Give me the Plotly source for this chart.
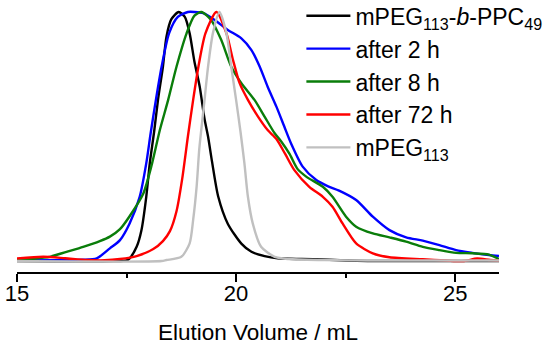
import plotly.graph_objects as go

# ---- data ----
names = ["mPEG<sub>113</sub>-<i>b</i>-PPC<sub>49</sub>", "after 2 h", "after 8 h", "after 72 h", "mPEG<sub>113</sub>"]
colors = ["#000000", "#0000ff", "#0a7d0a", "#ff0000", "#c0c0c0"]

black_x = [15.0, 17.2, 17.5, 17.57, 17.73, 17.84, 17.95, 18.03, 18.13, 18.22, 18.33, 18.41, 18.52, 18.69,
           18.83, 18.94, 19.05, 19.17, 19.28, 19.36, 19.45, 19.59, 19.81, 20.12, 20.35, 20.65, 20.95,
           21.5, 22.0, 22.5, 23.0, 26.0]
black_y = [0.0, 0.0, 0.003, 0.011, 0.057, 0.124, 0.258, 0.392, 0.52, 0.65, 0.78, 0.9, 0.97, 1.0,
           0.98, 0.914, 0.80, 0.70, 0.57, 0.50, 0.40, 0.26, 0.15, 0.07, 0.037, 0.02, 0.011,
           0.008, 0.006, 0.002, 0.0, 0.0]

blue_x = [15.0, 16.0, 16.5, 16.82, 17.12, 17.35, 17.57, 17.80, 17.95, 18.05, 18.17, 18.30, 18.47, 18.67,
          18.9, 19.05, 19.25, 19.51, 19.81, 20.12, 20.35, 20.54, 20.72, 20.92, 21.10, 21.26, 21.52,
          21.83, 22.1, 22.35, 22.74, 23.12, 23.50, 23.88, 24.26, 24.64, 25.02, 25.39, 25.77, 26.0]
blue_y = [0.002, 0.003, 0.005, 0.011, 0.051, 0.084, 0.151, 0.258, 0.392, 0.513, 0.647, 0.78, 0.914, 0.98,
          1.0, 1.0, 0.995, 0.968, 0.928, 0.894, 0.847, 0.78, 0.70, 0.62, 0.54, 0.47, 0.379,
          0.325, 0.30, 0.283, 0.245, 0.178, 0.124, 0.095, 0.082, 0.064, 0.044, 0.033, 0.024, 0.02]

green_x = [15.0, 15.3, 15.75, 16.13, 16.51, 16.89, 17.12, 17.35, 17.57, 17.88, 18.08, 18.26, 18.45, 18.64,
           18.87, 19.05, 19.21, 19.43, 19.66, 19.89, 20.12, 20.42, 20.65, 20.88, 21.03, 21.22, 21.40,
           21.60, 21.98, 22.20, 22.51, 22.74, 23.12, 23.50, 23.88, 24.26, 24.64, 25.02, 25.39, 25.77, 26.0]
green_y = [0.003, 0.008, 0.017, 0.037, 0.057, 0.080, 0.098, 0.128, 0.18, 0.27, 0.39, 0.526, 0.647, 0.78,
           0.914, 0.985, 1.0, 0.968, 0.888, 0.78, 0.714, 0.647, 0.58, 0.513, 0.48, 0.43, 0.37,
           0.339, 0.298, 0.258, 0.178, 0.138, 0.111, 0.095, 0.078, 0.057, 0.044, 0.033, 0.031, 0.026, 0.008]

red_x = [15.0, 15.6, 16.1, 16.6, 17.0, 17.35, 17.73, 18.11, 18.33, 18.49, 18.64, 18.77, 18.90, 19.02,
         19.15, 19.30, 19.55, 19.78, 19.93, 20.08, 20.27, 20.50, 20.72, 20.92, 21.12, 21.33, 21.67,
         21.98, 22.20, 22.43, 22.74, 23.12, 23.50, 24.26, 24.8, 25.2, 25.5, 25.8, 26.0]
red_y = [0.01, 0.017, 0.011, 0.004, 0.003, 0.008, 0.02, 0.048, 0.08, 0.12, 0.2, 0.33, 0.5, 0.647,
         0.79, 0.914, 1.0, 0.914, 0.807, 0.714, 0.647, 0.58, 0.526, 0.49, 0.43, 0.365, 0.298,
         0.258, 0.218, 0.151, 0.071, 0.031, 0.015, 0.007, 0.002, 0.0, 0.01, 0.004, 0.002]

gray_x = [15.0, 18.3, 18.41, 18.75, 18.94, 19.02, 19.10, 19.16, 19.22, 19.28, 19.36, 19.47, 19.62,
          19.78, 19.89, 20.0, 20.10, 20.19, 20.27, 20.38, 20.57, 20.88, 21.2, 22.0, 23.0, 26.0]
gray_y = [0.0, 0.0, 0.004, 0.017, 0.071, 0.165, 0.30, 0.45, 0.55, 0.647, 0.78, 0.914, 1.0,
          0.914, 0.78, 0.647, 0.52, 0.392, 0.258, 0.151, 0.057, 0.017, 0.008, 0.004, 0.002, 0.002]

series_x = [black_x, blue_x, green_x, red_x, gray_x]
series_y = [black_y, blue_y, green_y, red_y, gray_y]

x_ticks = [15, 20, 25]
x_tick_text = ["15", "20", "25"]
x_title = "Elution Volume / mL"

FONT = "Liberation Sans, Arial, sans-serif"

fig = go.Figure()
for nm, col, xs, ys in zip(names, colors, series_x, series_y):
    fig.add_trace(go.Scatter(
        x=xs, y=ys, mode="lines", name=nm,
        line=dict(color=col, width=2.4, shape="spline", smoothing=0.7),
    ))

fig.update_layout(
    width=550, height=347,
    margin=dict(l=17, r=51, t=0, b=75, autoexpand=False),
    paper_bgcolor="white", plot_bgcolor="white",
    font=dict(family=FONT, size=22, color="black"),
    showlegend=True,
    legend=dict(
        x=0.59, y=1.021, xanchor="left", yanchor="top",
        bgcolor="rgba(0,0,0,0)", borderwidth=0,
        font=dict(family=FONT, size=23, color="black"),
        itemwidth=44,
    ),
    xaxis=dict(
        range=[15, 26], showgrid=False, zeroline=False, automargin=False,
        showline=True, linecolor="black", linewidth=2,
        ticks="outside", ticklen=8, tickwidth=2, tickcolor="black",
        tickvals=x_ticks, ticktext=x_tick_text,
        tickfont=dict(family=FONT, size=22, color="black"),
        ticklabelstandoff=-7,
        minor=dict(ticks="outside", ticklen=4, tickwidth=2, tickcolor="black", dtick=2.5, tick0=15),
        title=dict(text=x_title, font=dict(family=FONT, size=22.5, color="black"), standoff=19),
    ),
    yaxis=dict(
        range=[-0.044, 1.048], visible=False, showgrid=False, zeroline=False, automargin=False,
    ),
)

fig.write_html(
    "out.html",
    config={"displayModeBar": False, "staticPlot": True},
    post_script="document.body.style.margin='0';document.body.style.overflow='hidden';",
)
